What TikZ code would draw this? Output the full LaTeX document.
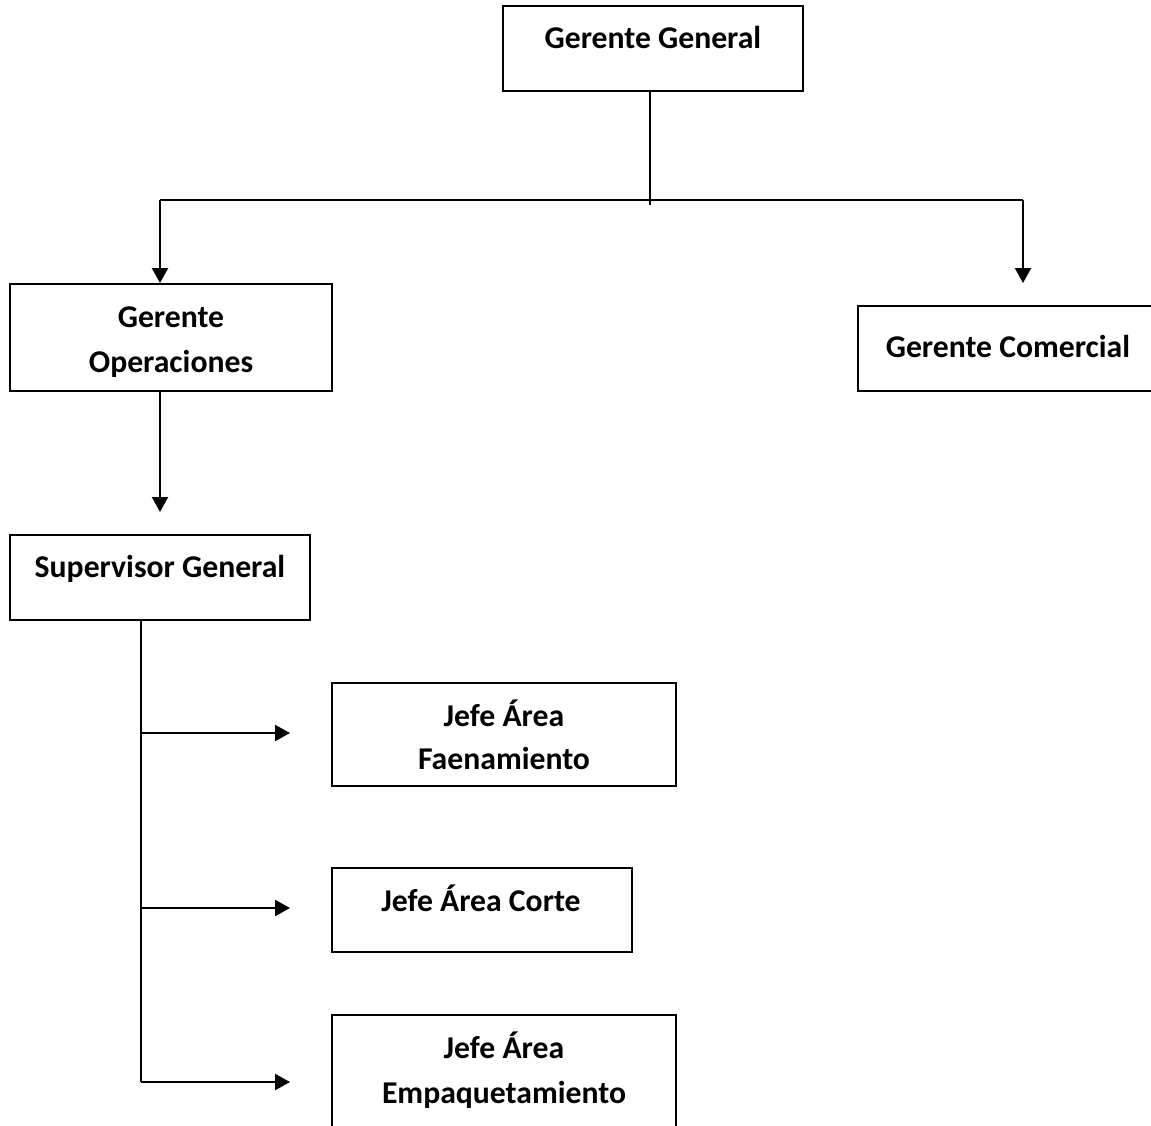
\documentclass[tikz,border=0pt]{standalone}
\usepackage{fontspec}
\setmainfont{Carlito}
\usetikzlibrary{arrows.meta}
\begin{document}
\begin{tikzpicture}[x=1pt,y=-1pt,
  box/.style={draw=black, line width=2pt, rectangle, inner sep=0pt, fill=white},
  lbl/.style={anchor=base, inner sep=0pt, font=\fontsize{31.7}{38}\selectfont\bfseries},
  conn/.style={line width=2.2pt, draw=black},
  arr/.style={conn, -{Triangle[length=15pt,width=16pt]}}]
\clip (0,0) rectangle (1151,1125);
\fill[white] (0,0) rectangle (1151,1125);
% boxes
\node[box, minimum width=300pt, minimum height=85pt] (gg) at (653,48.5) {};
\node[box, minimum width=322pt, minimum height=107pt] (go) at (171,337.5) {};
\node[box, minimum width=302pt, minimum height=85pt] (gc) at (1009,348.5) {};
\node[box, minimum width=300pt, minimum height=85pt] (sg) at (160,577.5) {};
\node[box, minimum width=344pt, minimum height=103pt] (jf) at (504,734.5) {};
\node[box, minimum width=300pt, minimum height=84pt] (jc) at (482,910) {};
\node[box, minimum width=344pt, minimum height=115pt] (je) at (504,1072.5) {};
% texts
\node[lbl] (tgg) at (653,48) {Gerente General};
\node[lbl] (tgo1) at (171,327) {Gerente};
\node[lbl] (tgo2) at (171,372) {Operaciones};
\node[lbl] (tgc) at (1008,357) {Gerente Comercial};
\node[lbl] (tsg) at (160,577) {Supervisor General};
\node[lbl] (tjf1) at (504,726) {Jefe Área};
\node[lbl] (tjf2) at (504,769) {Faenamiento};
\node[lbl] (tjc) at (481,911) {Jefe Área Corte};
\node[lbl] (tje1) at (504,1058) {Jefe Área};
\node[lbl] (tje2) at (504,1103) {Empaquetamiento};
% connector points
\coordinate (j) at (650,205);
\coordinate (hl) at (160,200);
\coordinate (hr) at (1023,200);
\coordinate (gcin) at (1023,283);
\coordinate (goout) at (160,391);
\coordinate (sgin) at (160,512);
\coordinate (v0) at (141,620);
\coordinate (v1) at (141,733);
\coordinate (v2) at (141,908);
\coordinate (v3) at (141,1082);
\coordinate (a1) at (290,733);
\coordinate (a2) at (290,908);
\coordinate (a3) at (290,1082);
% connectors
\draw[conn] (gg.south -| j) -- (j);
\draw[conn] (hl) -- (hr);
\draw[arr] (hl) -- (hl |- go.north);
\draw[arr] (hr) -- (gcin);
\draw[arr] (goout) -- (sgin);
\draw[conn] (v0) -- (v3);
\draw[arr] (v1) -- (a1);
\draw[arr] (v2) -- (a2);
\draw[arr] (v3) -- (a3);
\end{tikzpicture}
\end{document}
